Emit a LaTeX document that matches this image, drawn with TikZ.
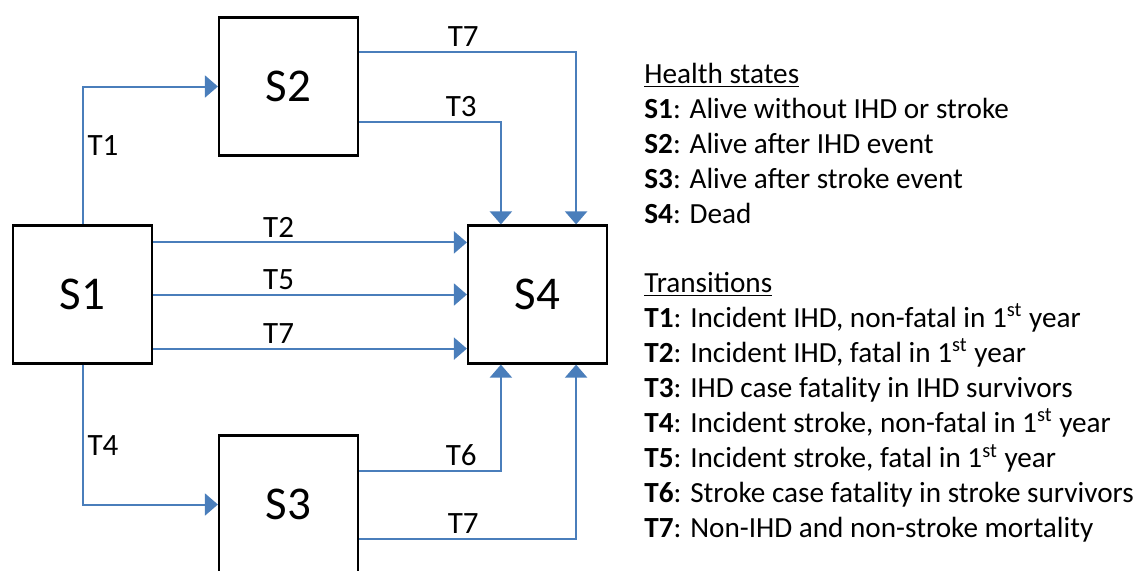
\documentclass[tikz,border=0pt]{standalone}
\usepackage{fontspec}
\setmainfont{Carlito}
\usetikzlibrary{arrows.meta}

\definecolor{arrowblue}{RGB}{74,126,187}

\tikzset{
  box/.style={draw=black, line width=1.1pt, minimum width=69.5pt, minimum height=69pt, inner sep=0pt, font=\fontsize{23.5}{28}\selectfont},
  trans/.style={arrowblue, line width=1pt, -{Triangle[length=6.5pt,width=11pt]}},
  tlabel/.style={black, inner sep=2pt, font=\fontsize{15.5}{18}\selectfont},
  legend/.style={anchor=base west, inner sep=0pt, font=\fontsize{14.6}{17.5}\selectfont}
}

\begin{document}
\begin{tikzpicture}[x=0.5pt, y=-0.5pt]
\useasboundingbox (0,0) rectangle (1141,570);
\clip (0,0) rectangle (1141,570);

% health states
\node[box] (S1) at (82.5,294.5) {S1};
\node[box] (S2) at (288.5,86.5) {S2};
\node[box] (S3) at (288.5,504.5) {S3};
\node[box] (S4) at (537.5,294.5) {S4};

% transitions
\draw[trans] (S1.north) |- (S2.west) node[tlabel, pos=.285, right] {T1};
\draw[trans] (S1.south) |- (S3.west) node[tlabel, pos=.29, right] {T4};

\draw[trans] ([yshift=-9pt]S1.north east) -- ([yshift=-9pt]S4.north west) node[tlabel, pos=.4, above] {T2};
\draw[trans] (S1.east) -- (S4.west) node[tlabel, pos=.4, above] {T5};
\draw[trans] ([yshift=8pt]S1.south east) -- ([yshift=8pt]S4.south west) node[tlabel, pos=.4, above] {T7};

\draw[trans] ([yshift=17.5pt]S2.east) -| ([xshift=-16pt]S4.north east) node[tlabel, pos=.24, above] {T7};
\draw[trans] ([yshift=-17.5pt]S2.east) -| ([xshift=17pt]S4.north west) node[tlabel, pos=.36, above] {T3};
\draw[trans] ([yshift=17pt]S3.east) -| ([xshift=17pt]S4.south west) node[tlabel, pos=.36, above] {T6};
\draw[trans] ([yshift=-17pt]S3.east) -| ([xshift=-16pt]S4.south east) node[tlabel, pos=.24, above] {T7};

% legend
\node[legend] (H) at (644,83) {\underline{Health states}};
\foreach \txt [count=\i] in {
  {\textbf{S1}: Alive without IHD or stroke},
  {\textbf{S2}: Alive after IHD event},
  {\textbf{S3}: Alive after stroke event},
  {\textbf{S4}: Dead}}
  \node[legend] (HS\i) at (644,83+35*\i) {\txt};

\node[legend] (T) at (644,292) {\underline{Transitions}};
\foreach \txt [count=\i] in {
  {\textbf{T1}: Incident IHD, non-fatal in 1\textsuperscript{st} year},
  {\textbf{T2}: Incident IHD, fatal in 1\textsuperscript{st} year},
  {\textbf{T3}: IHD case fatality in IHD survivors},
  {\textbf{T4}: Incident stroke, non-fatal in 1\textsuperscript{st} year},
  {\textbf{T5}: Incident stroke, fatal in 1\textsuperscript{st} year},
  {\textbf{T6}: Stroke case fatality in stroke survivors},
  {\textbf{T7}: Non-IHD and non-stroke mortality}}
  \node[legend] (TR\i) at (644,292+35.1*\i) {\txt};

\end{tikzpicture}
\end{document}
